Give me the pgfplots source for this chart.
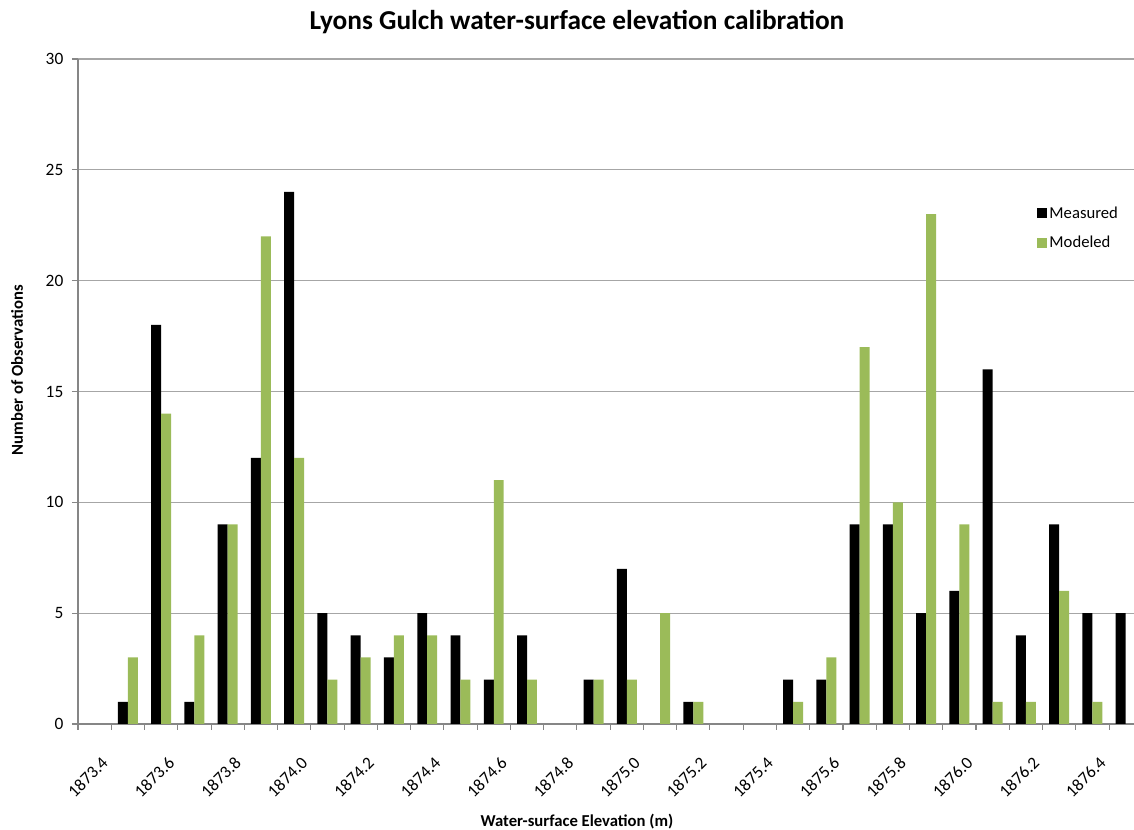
\documentclass[border=0pt]{standalone}
\usepackage{pgfplots}
\pgfplotsset{compat=1.18}
\usepackage{pgfplotstable}
\usepackage{fontspec}
\setmainfont{Carlito}

\definecolor{olive}{HTML}{9BBB59}
\definecolor{axisgray}{HTML}{868686}
\definecolor{gridgray}{HTML}{A6A6A6}

% counts per 0.1 m elevation bin, 1873.4 ... 1876.5
\pgfplotstableread{
idx M  Mod
0   0  0
1   1  3
2   18 14
3   1  4
4   9  9
5   12 22
6   24 12
7   5  2
8   4  3
9   3  4
10  5  4
11  4  2
12  2  11
13  4  2
14  0  0
15  2  2
16  7  2
17  0  5
18  1  1
19  0  0
20  0  0
21  2  1
22  2  3
23  9  17
24  9  10
25  5  23
26  6  9
27  16 1
28  4  1
29  9  6
30  5  1
31  5  0
}\elev

\begin{document}
\begin{tikzpicture}
\begin{axis}[
    scale only axis,
    width=792pt, height=498.75pt,
    xmin=-0.5, xmax=31.25,
    ymin=0, ymax=30,
    axis x line*=bottom, axis y line*=left,
    axis line style={axisgray, line width=0.8pt},
    every tick/.style={axisgray, line width=0.8pt},
    tick align=outside,
    major tick length=4.5pt,
    ytick={0,5,...,30},
    ymajorgrids,
    major grid style={gridgray, line width=0.8pt},
    xtick={-0.5,0.5,...,31.5},
    xticklabels={},
    extra x ticks={0,2,...,30},
    extra x tick labels={1873.4,1873.6,1873.8,1874.0,1874.2,1874.4,1874.6,1874.8,1875.0,1875.2,1875.4,1875.6,1875.8,1876.0,1876.2,1876.4},
    extra x tick style={major tick length=0pt, grid=none,
        xticklabel style={rotate=45, anchor=north east, xshift=-10.2pt, yshift=-16.5pt}},
    tick label style={font=\fontsize{13pt}{15pt}\selectfont, black},
    /pgf/number format/assume math mode=true,
    yticklabel style={xshift=-3pt},
    every axis title shift=0pt,
    title={Lyons Gulch water-surface elevation calibration},
    title style={font=\bfseries\fontsize{20.5pt}{24pt}\selectfont, at={(axis description cs:0.4725,1.0556)}, anchor=center},
    xlabel={Water-surface Elevation (m)},
    xlabel style={font=\bfseries\fontsize{12.5pt}{15pt}\selectfont, at={(axis description cs:0.4725,-0.147)}, anchor=center},
    ylabel={Number of Observations},
    ylabel style={font=\bfseries\fontsize{12.5pt}{15pt}\selectfont, at={(axis description cs:-0.0578,0.532)}, anchor=center, rotate=0},
    legend style={draw=none, fill=none, font=\fontsize{12.5pt}{15pt}\selectfont,
        at={(axis description cs:0.9077,0.7825)}, anchor=north west,
        row sep=8.2pt, inner sep=0pt},
    legend cell align=left,
    legend image code/.code={\fill[#1] (0pt,-3.75pt) rectangle (7.5pt,3.75pt);},
    unbounded coords=discard,
]
\addplot[ybar, bar width=0.3, bar shift=-0.15, fill=black, draw=none,
    y filter/.expression={y==0 ? nan : y}] table[x=idx, y=M] {\elev};
\addlegendentry{Measured}
\addplot[ybar, bar width=0.3, bar shift=0.15, fill=olive, draw=none,
    y filter/.expression={y==0 ? nan : y}] table[x=idx, y=Mod] {\elev};
\addlegendentry{Modeled}
\coordinate (O) at (rel axis cs:0,0);
\end{axis}
\pgfresetboundingbox
\path ([shift={(-58.5pt,-79.5pt)}]O) rectangle ++(850.5pt,622.5pt);
\end{tikzpicture}
\end{document}
